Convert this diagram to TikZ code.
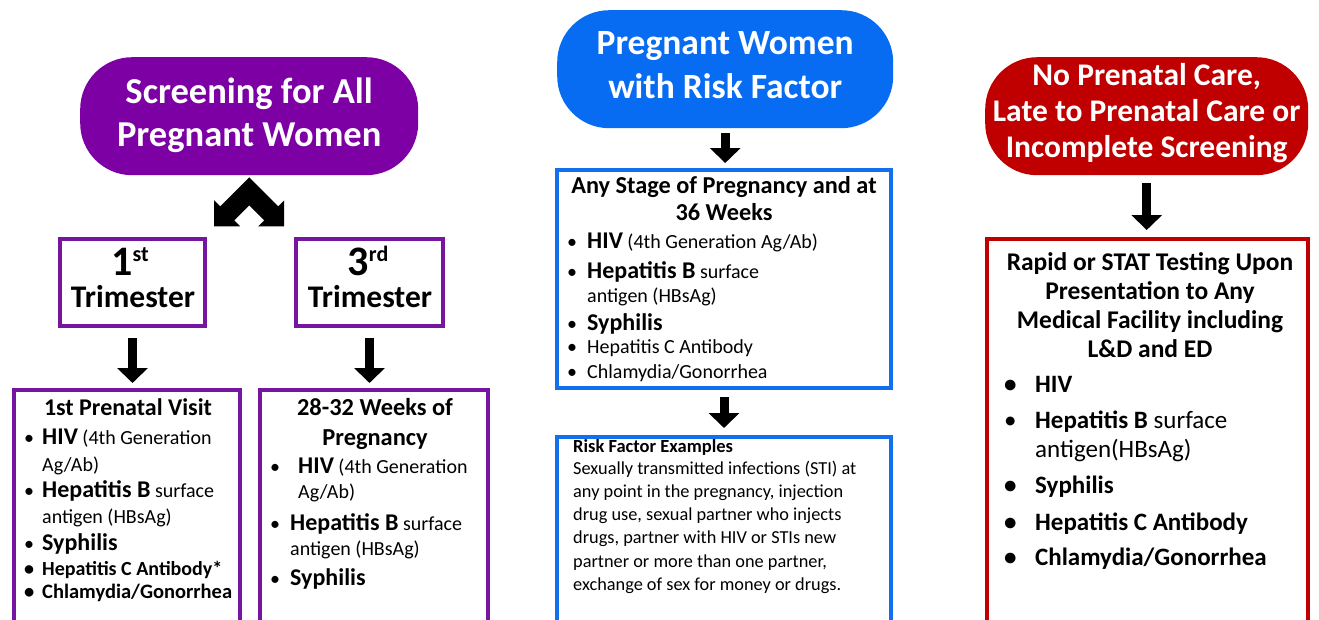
\documentclass[tikz,border=0pt]{standalone}
\usepackage{fontspec}
\setmainfont{Carlito}
\usepackage{tikz}
\usetikzlibrary{arrows.meta, calc}
\definecolor{pillpurple}{RGB}{125,0,165}
\definecolor{boxpurple}{RGB}{118,22,160}
\definecolor{pillblue}{RGB}{8,108,242}
\definecolor{boxblue}{RGB}{18,112,238}
\definecolor{pillred}{RGB}{192,0,0}
\definecolor{boxred}{RGB}{192,0,0}
\newcommand{\fsz}[1]{\fontsize{#1}{#1}\selectfont}
\newcommand{\bul}[1]{\makebox[#1][l]{•}}
\tikzstyle{pill} = [rectangle, rounded corners=52pt, minimum height=118pt, anchor=north west, inner sep=0pt]
\tikzstyle{pilltxt} = [text=white, align=center, inner sep=0pt]
\tikzstyle{field} = [rectangle, draw, line width=4pt, anchor=north west, inner sep=0pt]
\tikzstyle{ln} = [anchor=base west, inner sep=0pt]
\tikzstyle{hd} = [anchor=base, inner sep=0pt]
\tikzstyle{bigarrow} = [-{Triangle[width=30pt,length=15pt]}, line width=9pt]

\begin{document}
\begin{tikzpicture}[x=1pt, y=-1pt]
        \useasboundingbox (0,0) rectangle (1319,619);
        \clip (0,0) rectangle (1319,619);

        % top pills
        \node (scr) [pill, fill=pillpurple, minimum width=338pt] at (80,57) {};
        \node (risk) [pill, fill=pillblue, minimum width=336pt] at (557,10) {};
        \node (late) [pill, fill=pillred, minimum width=323pt] at (985,57) {};
        \node (scrtxt) [pilltxt, font=\bfseries\fontsize{36.5}{43}\selectfont] at ([yshift=1pt]scr.center) {Screening for All\\Pregnant Women};
        \node (risktxt) [pilltxt, font=\bfseries\fontsize{35.5}{44}\selectfont] at ([yshift=4pt]risk.center) {Pregnant Women\\with Risk Factor};
        \node (latetxt) [pilltxt, font=\bfseries\fontsize{31.5}{36}\selectfont] at ([yshift=3pt]late.center) {No Prenatal Care,\\Late to Prenatal Care or\\Incomplete Screening};

        % boxes
        \node (tri1) [field, draw=boxpurple, minimum width=145pt, minimum height=87pt] at (58,237) {};
        \node (tri3) [field, draw=boxpurple, minimum width=147pt, minimum height=87pt] at (294,237) {};
        \node (visit1) [field, draw=boxpurple, minimum width=226pt, minimum height=260pt] at (12,388) {};
        \node (visit3) [field, draw=boxpurple, minimum width=228pt, minimum height=260pt] at (258,388) {};
        \node (stage) [field, draw=boxblue, minimum width=334pt, minimum height=218pt] at (555,168) {};
        \node (examples) [field, draw=boxblue, minimum width=334pt, minimum height=220pt] at (555,435) {};
        \node (rapid) [field, draw=boxred, minimum width=321pt, minimum height=400pt] at (985,237) {};

        % chevron
        \coordinate (apex) at ([yshift=-2pt]scr.south);
        \fill (apex) -- ++(-29,29) -- ++(-6,-6) -- ++(0,26) -- ++(26,0) -- ++(-6,-6) -- ++(15,-15)
              -- ++(15,15) -- ++(-6,6) -- ++(26,0) -- ++(0,-26) -- ++(-6,6) -- cycle;

        % arrows
        \draw[bigarrow, shorten <=10pt, shorten >=5pt] (tri1.south) -- (tri1.south |- visit1.north);
        \draw[bigarrow, shorten <=10pt, shorten >=5pt] (tri3.south) -- (tri3.south |- visit3.north);
        \draw[bigarrow, shorten <=5pt, shorten >=5pt] (risk.south) -- (risk.south |- stage.north);
        \draw[bigarrow, shorten <=7pt, shorten >=7pt] (stage.south) -- (stage.south |- examples.north);
        \draw[bigarrow, shorten <=8pt, shorten >=7pt] (late.south) -- (late.south |- rapid.north);

        % trimesters
        \node (tri1n) [hd, font=\bfseries] at (130,275) {\fsz{42}1\raisebox{14pt}{\fsz{22}st}};
        \node (tri1t) [hd, font=\bfseries\fsz{31.5}] at (133,307) {Trimester};
        \node (tri3n) [hd, font=\bfseries] at (368,275) {\fsz{42}3\raisebox{14pt}{\fsz{22}rd}};
        \node (tri3t) [hd, font=\bfseries\fsz{31.5}] at (370,307) {Trimester};

        % 1st prenatal visit
        \node (v1t) [hd, font=\bfseries\fsz{24}] at (128,415) {1st Prenatal Visit};
        \node (v1a) [ln, font=\fsz{20}] at (24,444) {\bul{18pt}\textbf{\fsz{24}HIV} (4th Generation};
        \node (v1b) [ln, font=\fsz{20}] at (42,471) {Ag/Ab)};
        \node (v1c) [ln, font=\fsz{20}] at (24,497) {\bul{18pt}\textbf{\fsz{24}Hepatitis B} surface};
        \node (v1d) [ln, font=\fsz{20}] at (42,523) {antigen (HBsAg)};
        \node (v1e) [ln, font=\fsz{20}] at (24,550) {\bul{18pt}\textbf{\fsz{24}Syphilis}};
        \node (v1f) [ln, font=\bfseries\fsz{20}] at (24,575) {\bul{18pt}Hepatitis C Antibody*};
        \node (v1g) [ln, font=\bfseries\fsz{20.5}] at (24,598) {\bul{18pt}Chlamydia/Gonorrhea};

        % 28-32 weeks
        \node (v3t) [hd, font=\bfseries\fsz{24.4}] at (375,415) {28-32 Weeks of};
        \node (v3u) [hd, font=\bfseries\fsz{24.4}] at (375,445) {Pregnancy};
        \node (v3a) [ln, font=\fsz{20}] at (270,473) {\bul{28pt}\textbf{\fsz{24}HIV} (4th Generation};
        \node (v3b) [ln, font=\fsz{20}] at (298,498) {Ag/Ab)};
        \node (v3c) [ln, font=\fsz{20}] at (270,530) {\bul{20pt}\textbf{\fsz{24}Hepatitis B} surface};
        \node (v3d) [ln, font=\fsz{20}] at (290,555) {antigen (HBsAg)};
        \node (v3e) [ln, font=\fsz{20}] at (270,585) {\bul{20pt}\textbf{\fsz{24}Syphilis}};

        % any stage
        \node (st) [hd, font=\bfseries\fsz{24.3}] at (724,193) {Any Stage of Pregnancy and at};
        \node (su) [hd, font=\bfseries\fsz{24.3}] at (724,220) {36 Weeks};
        \node (sa) [ln, font=\fsz{20}] at (567,248) {\bul{20pt}\textbf{\fsz{24}HIV} (4th Generation Ag/Ab)};
        \node (sb) [ln, font=\fsz{20}] at (567,278) {\bul{20pt}\textbf{\fsz{24}Hepatitis B} surface};
        \node (sc) [ln, font=\fsz{20}] at (587,302) {antigen (HBsAg)};
        \node (sd) [ln, font=\fsz{20}] at (567,330) {\bul{20pt}\textbf{\fsz{24}Syphilis}};
        \node (se) [ln, font=\fsz{20}] at (567,353) {\bul{20pt}Hepatitis C Antibody};
        \node (sf) [ln, font=\fsz{20}] at (567,378) {\bul{20pt}Chlamydia/Gonorrhea};

        % risk factor examples
        \node (ext) [ln, font=\bfseries\fsz{18.5}] at (573,452) {Risk Factor Examples};
        \node (exa) [ln, font=\fsz{18.3}] at (573,474) {Sexually transmitted infections (STI) at};
        \node (exb) [ln, font=\fsz{18.3}] at (573,497) {any point in the pregnancy, injection};
        \node (exc) [ln, font=\fsz{18.3}] at (573,520) {drug use, sexual partner who injects};
        \node (exd) [ln, font=\fsz{18.3}] at (573,543) {drugs, partner with HIV or STIs new};
        \node (exe) [ln, font=\fsz{18.3}] at (573,567) {partner or more than one partner,};
        \node (exf) [ln, font=\fsz{18.3}] at (573,590) {exchange of sex for money or drugs.};

        % rapid testing
        \node (rt) [hd, font=\bfseries\fsz{25.5}] at (1150,270) {Rapid or STAT Testing Upon};
        \node (ru) [hd, font=\bfseries\fsz{25.5}] at (1150,299) {Presentation to Any};
        \node (rv) [hd, font=\bfseries\fsz{25.5}] at (1150,328) {Medical Facility including};
        \node (rw) [hd, font=\bfseries\fsz{25.5}] at (1150,357) {L\&D and ED};
        \node (ra) [ln, font=\bfseries\fsz{25}] at (1004,392) {\bul{31pt}HIV};
        \node (rb) [ln, font=\fsz{25}] at (1004,428) {\bul{31pt}\textbf{Hepatitis B} surface};
        \node (rc) [ln, font=\fsz{25}] at (1035,457) {antigen(HBsAg)};
        \node (rd) [ln, font=\bfseries\fsz{25}] at (1004,493) {\bul{31pt}Syphilis};
        \node (re) [ln, font=\bfseries\fsz{25}] at (1004,530) {\bul{31pt}Hepatitis C Antibody};
        \node (rf) [ln, font=\bfseries\fsz{25}] at (1004,565) {\bul{31pt}Chlamydia/Gonorrhea};

    \end{tikzpicture}
\end{document}
